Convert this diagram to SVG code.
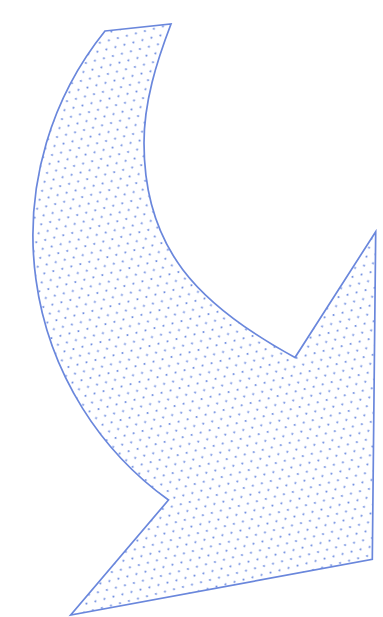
<svg xmlns="http://www.w3.org/2000/svg" width="383" height="617" viewBox="0 0 383 617">
  <style>
    .arrow { fill: url(#dots); stroke: #6a87dc; stroke-width: 1.7; stroke-linejoin: miter; }
    .dot { fill: #6d8ce0; }
  </style>
  <defs>
    <pattern id="dots" patternUnits="userSpaceOnUse" width="9.3" height="16.108" patternTransform="rotate(-14.5)">
      <circle class="dot" cx="2.3" cy="2" r="1.05"/>
      <circle class="dot" cx="6.95" cy="10.054" r="1.05"/>
    </pattern>
  </defs>
  <rect width="383" height="617" fill="#ffffff"/>
  <g id="curved-arrow">
    <path class="arrow" d="M105,31 L171,24 C156.4,62.3 144,102 144,143 C144,248 197.2,304.2 295,357.5 L375.7,231.7 L372.3,559.3 L70.7,615 L168.5,500 A326,326 0 0 1 105,31 Z"/>
  </g>
</svg>
